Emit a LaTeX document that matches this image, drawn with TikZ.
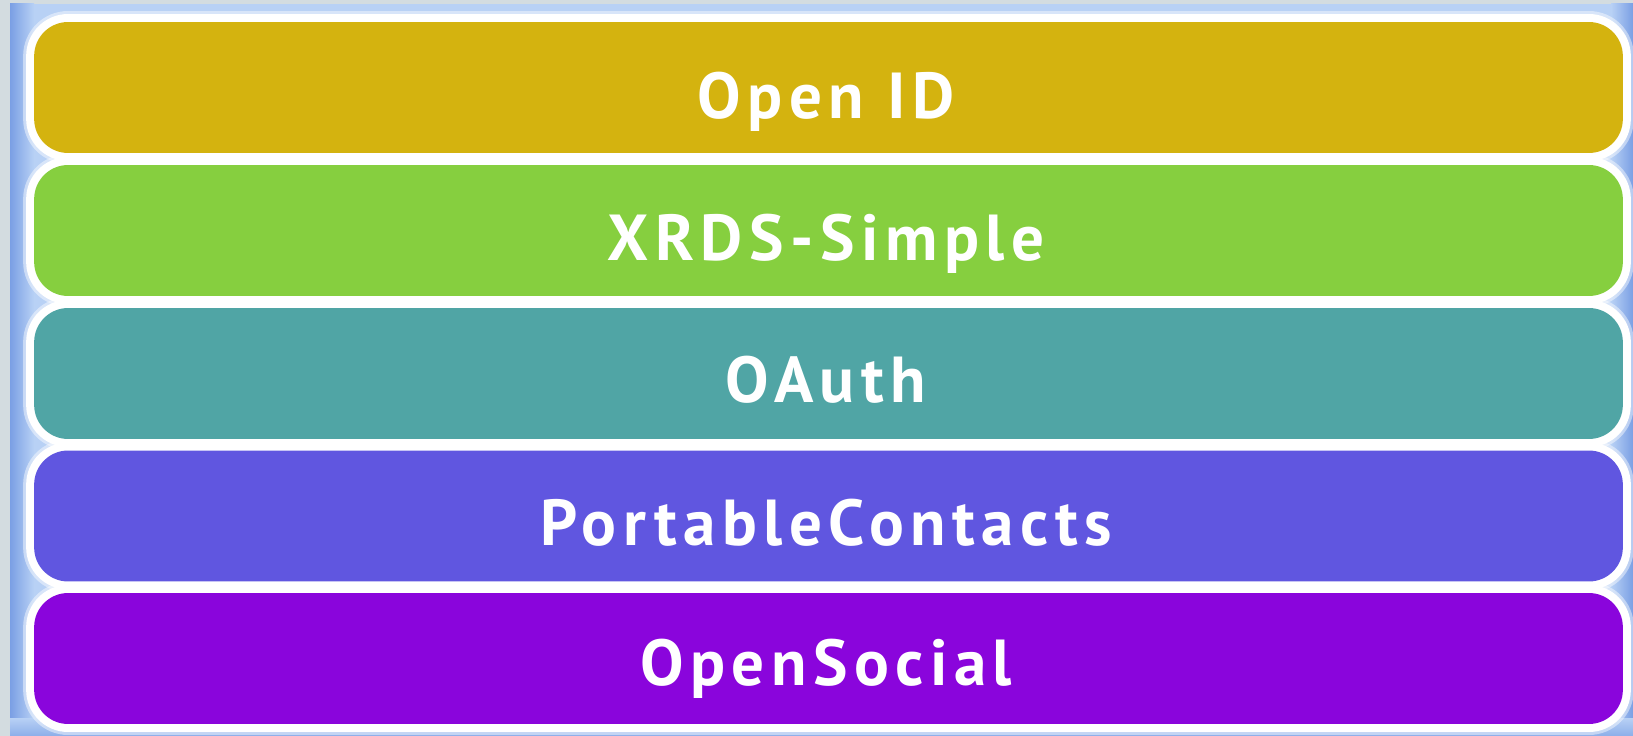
\documentclass[tikz,border=0pt]{standalone}
\usepackage{fontspec}
\setmainfont{PT Sans}
\newfontfamily\labelfont{PT Sans}[LetterSpace=10]
\definecolor{frame}{HTML}{D3DCE0}
\definecolor{bgblue}{HTML}{B8D1F5}
\definecolor{edgeblue}{HTML}{7A9FE4}
\definecolor{cOpenID}{HTML}{D4B30F}
\definecolor{cXRDS}{HTML}{86CF3F}
\definecolor{cOAuth}{HTML}{50A5A5}
\definecolor{cPoCo}{HTML}{6056E0}
\definecolor{cOS}{HTML}{8A05DC}
\tikzset{
  layerbar/.style={rectangle, rounded corners=0.68cm, inner sep=0pt,
    minimum width=31.78cm, minimum height=2.62cm, draw=none,
    preaction={draw=white, draw opacity=0.45, line width=0.44cm},
    preaction={draw=white, line width=0.32cm}},
  layerlabel/.style={anchor=base, text=white, font=\labelfont\fontsize{37}{40}\selectfont\bfseries}
}
\begin{document}
\begin{tikzpicture}[x=0.02cm, y=-0.02cm]
\useasboundingbox (0,0) rectangle (1633,736);
\fill[frame] (0,0) rectangle (1633,736);
\fill[bgblue] (10,4) rectangle (1633,736);
\shade[left color=edgeblue, right color=bgblue] (10,4) rectangle (34,736);
\shade[left color=bgblue, right color=edgeblue] (1611,4) rectangle (1633,736);
\shade[top color=bgblue, bottom color=edgeblue!70!bgblue] (10,718) rectangle (1633,736);
\node[layerbar, fill=cOpenID] (b1) at (828.5,87.5) {};
\node[layerbar, fill=cXRDS]   (b2) at (828.5,230.5) {};
\node[layerbar, fill=cOAuth]  (b3) at (828.5,373.5) {};
\node[layerbar, fill=cPoCo]   (b4) at (828.5,516) {};
\node[layerbar, fill=cOS]     (b5) at (828.5,658.5) {};
\node[layerlabel] (t1) at (826,119) {Open ID};
\node[layerlabel] (t2) at (826,261) {XRDS-Simple};
\node[layerlabel] (t3) at (826,403) {OAuth};
\node[layerlabel] (t4) at (826,545) {PortableContacts};
\node[layerlabel] (t5) at (826,685) {OpenSocial};
\end{tikzpicture}
\end{document}
